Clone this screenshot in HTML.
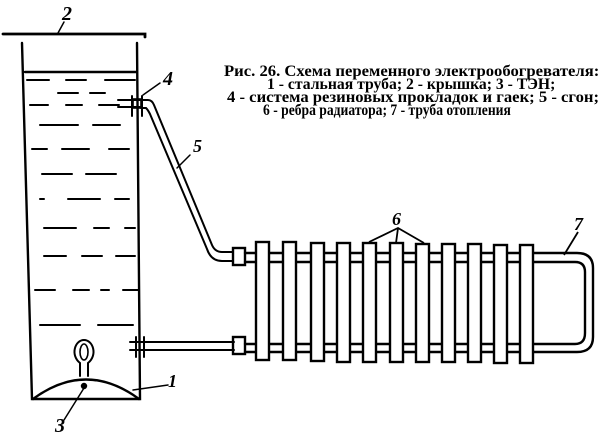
<!DOCTYPE html>
<html><head><meta charset="utf-8"><style>body{margin:0;background:#fff;position:relative;width:600px;height:433px;overflow:hidden}svg{display:block;position:absolute;left:0;top:0}
.t{position:absolute;font-family:"Liberation Serif",serif;font-weight:bold;font-size:16px;line-height:16px;white-space:nowrap;transform-origin:0 0}</style></head><body>
<svg width="600" height="433" viewBox="0 0 600 433" xmlns="http://www.w3.org/2000/svg" font-family="Liberation Serif, serif">
<rect width="600" height="433" fill="#fff"/>
<g stroke="#000" fill="none" stroke-width="2.4" stroke-linecap="round">
<path d="M3 34 L145 34 L145 37" stroke-width="2.8"/>
<text x="62" y="20" font-size="20" font-style="italic" font-weight="bold" fill="#000" stroke="none">2</text>
<path d="M58 33 L64 22" stroke-width="1.5"/>
<path d="M22 43 L32 399 L140 399 L137 43"/>
<path d="M33 399 Q86 360 139 399"/>
<path d="M25 72 L136 72"/>
<g stroke-width="2">
<path d="M27 80h22M66 80h20M105 80h30M58 93h20M90 93h15M30 105h18M66 105h16M99 105h20M40 125h38M93 125h27M32 149h15M62 149h27M109 149h20M42 174h30M86 174h30M40 199h4M68 199h32M115 199h14M44 228h32M94 228h15M125 228h10M44 256h22M82 256h20M116 256h19M35 290h20M73 290h16M101 290h8M123 290h15M40 325h40M98 325h35"/>
</g>
<path d="M80 376 L80 363 C70 355 75 340 84 340 C93 340 98 355 88 363 L88 376" stroke-width="2"/>
<ellipse cx="84" cy="352" rx="4" ry="8" stroke-width="1.6"/>
<circle cx="84" cy="386" r="2" fill="#000"/>
<path d="M84 388 L64 420" stroke-width="1.5"/>
<text x="55" y="432" font-size="20" font-style="italic" font-weight="bold" fill="#000" stroke="none">3</text>
<path d="M133 390 L168 385" stroke-width="1.5"/>
<text x="168" y="387" font-size="18" font-style="italic" font-weight="bold" fill="#000" stroke="none">1</text>
<path d="M132 96v20M142 96v20M118 100h22M118 107h22" stroke-width="2"/>
<rect x="133" y="99" width="8" height="9" stroke-width="1.6"/>
<path d="M141 100 L148 100 Q152 100 154 105 L212 245 Q215 252 222 252 L233 252" stroke-width="2"/>
<path d="M141 108 L146 108 Q148 110 150 114 L207 249 Q211 261 222 261 L233 261" stroke-width="2"/>
<path d="M143 95 L160 83" stroke-width="1.5"/>
<text x="163" y="85" font-size="20" font-style="italic" font-weight="bold" fill="#000" stroke="none">4</text>
<path d="M177 168 L190 155" stroke-width="1.5"/>
<text x="193" y="152" font-size="18" font-style="italic" font-weight="bold" fill="#000" stroke="none">5</text>
<path d="M136 337v20M144 337v20M130 342h104M130 350h104" stroke-width="2"/>
<rect x="233" y="248" width="12" height="17" stroke-width="2.4"/>
<rect x="233" y="337" width="12" height="17" stroke-width="2.4"/>
<path d="M245 253 H577 Q593 253 593 268 V337 Q593 352 577 352 H245" stroke-width="2.4"/>
<path d="M245 262 H575 Q585 262 585 272 V333 Q585 344 575 344 H245" stroke-width="2.4"/>
</g>
<g stroke="#000" stroke-width="2.4" fill="#fff">
<rect x="256" y="242" width="13" height="118"/>
<rect x="283" y="242" width="13" height="118"/>
<rect x="311" y="243" width="13" height="118"/>
<rect x="337" y="243" width="13" height="119"/>
<rect x="363" y="243" width="13" height="119"/>
<rect x="390" y="243" width="13" height="119"/>
<rect x="416" y="244" width="13" height="118"/>
<rect x="442" y="244" width="13" height="118"/>
<rect x="468" y="244" width="13" height="118"/>
<rect x="494" y="245" width="13" height="118"/>
<rect x="520" y="245" width="13" height="118"/>
</g>
<g stroke="#000" stroke-width="1.8" fill="none">
<path d="M369 242 L398 228 L424 243 M398 228 L396 243"/>
<path d="M564 255 L578 232"/>
</g>
<text x="392" y="225" font-size="18" font-style="italic" font-weight="bold">6</text>
<text x="574" y="230" font-size="18" font-style="italic" font-weight="bold">7</text>
</svg>
<div class="t" style="left:224px;top:64px;transform:scaleX(1.04)">Рис. 26. Схема переменного электрообогревателя:</div>
<div class="t" style="left:267px;top:77px;transform:scaleX(0.98)">1 - стальная труба; 2 - крышка; 3 - ТЭН;</div>
<div class="t" style="left:227px;top:90px;transform:scaleX(1.04)">4 - система резиновых прокладок и гаек; 5 - сгон;</div>
<div class="t" style="left:263px;top:103px;transform:scaleX(0.85)">6 - ребра радиатора; 7 - труба отопления</div>
</body></html>
